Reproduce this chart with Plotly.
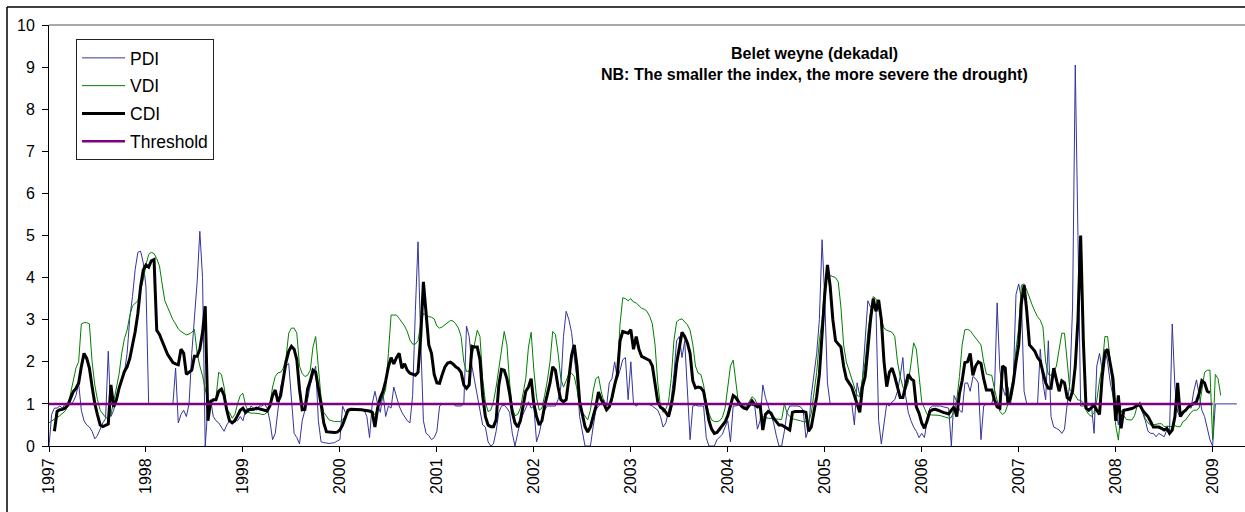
import plotly.graph_objects as go

# Dekadal drought indices, Belet weyne, one row per year (36 dekads), starting Jan 1997
PDI = [
    0.0, 0.75, 0.9, 0.9, 0.95, 0.9, 1.0, 0.95, 1.0, 1.05, 1.2, 1.5, 0.85, 0.6, 0.5, 0.45, 0.35, 0.17, 0.25, 0.4, 0.55, 0.65, 2.25, 0.7, 0.85, 1.1, 1.4, 1.6, 1.75, 2.2, 3.05, 3.55, 4.2, 4.6, 4.63, 4.35,
    3.78, 1.0, 1.0, 1.0, 1.0, 1.0, 1.0, 1.0, 1.0, 1.0, 1.0, 1.85, 0.55, 0.75, 0.85, 0.7, 1.0, 2.2, 3.0, 3.9, 5.1, 4.0, 0.0, 0.95, 1.1, 0.7, 0.6, 0.55, 0.45, 0.35, 0.5, 0.6, 0.55, 0.65, 0.6, 0.7,
    0.6, 0.85, 0.8, 0.95, 0.9, 0.85, 0.95, 0.95, 1.0, 0.9, 0.6, 0.15, 0.3, 0.9, 1.4, 1.65, 1.9, 1.96, 1.0, 0.3, 0.2, 0.05, 0.6, 0.85, 1.1, 1.45, 1.7, 1.9, 0.6, 0.1, 0.08, 0.07, 0.06, 0.07, 0.08, 0.12,
    0.15, 0.95, 0.8, 0.85, 0.85, 0.85, 0.85, 0.85, 0.85, 0.85, 0.7, 0.2, 1.0, 1.3, 1.0, 0.8, 1.25, 0.7, 0.95, 0.9, 1.4, 1.15, 0.95, 0.8, 0.7, 0.6, 0.55, 1.2, 3.2, 4.85, 2.5, 0.6, 0.3, 0.25, 0.15, 0.2,
    0.35, 0.95, 1.0, 1.0, 1.0, 1.0, 1.0, 0.95, 0.95, 0.95, 1.0, 2.85, 2.6, 1.9, 1.55, 1.2, 0.8, 0.5, 0.45, 0.1, 0.0, 0.05, 0.35, 0.8, 0.95, 0.97, 0.9, 0.8, 0.3, 0.0, 0.3, 0.6, 0.75, 0.9, 1.05, 0.9,
    0.95, 0.1, 0.3, 0.6, 0.85, 0.95, 0.95, 0.95, 0.95, 1.1, 1.4, 2.6, 3.2, 3.0, 2.7, 2.1, 1.6, 0.7, 0.3, 0.0, 0.0, 0.0, 0.45, 0.85, 0.95, 1.0, 1.1, 0.95, 1.5, 1.6, 2.0, 1.6, 1.8, 2.05, 2.1, 1.1,
    2.0, 1.0, 0.95, 1.0, 1.0, 1.0, 1.0, 0.98, 0.95, 0.9, 0.85, 0.7, 0.45, 0.55, 0.8, 1.1, 1.7, 2.5, 2.6, 2.1, 2.5, 1.25, 0.15, 0.95, 0.97, 0.95, 0.95, 0.95, 0.2, 0.0, 0.0, 0.0, 0.15, 0.22, 0.28, 0.45,
    0.6, 0.1, 0.95, 0.95, 0.97, 0.97, 0.98, 0.98, 0.98, 0.97, 0.95, 0.4, 0.6, 1.45, 1.15, 0.95, 0.75, 0.55, 0.25, 0.0, 0.0, 0.35, 0.8, 0.95, 0.95, 0.95, 0.95, 0.93, 0.85, 0.2, 0.4, 1.2, 1.7, 2.2, 3.0, 4.9,
    3.5, 1.5, 1.0, 1.0, 1.0, 1.0, 1.0, 1.0, 1.0, 1.0, 1.02, 0.5, 1.5, 1.2, 1.6, 2.6, 3.45, 3.3, 3.4, 3.3, 0.6, 0.05, 0.6, 1.0, 0.95, 1.05, 1.1, 1.3, 1.65, 2.1, 1.2, 0.8, 0.6, 0.45, 0.35, 0.2,
    0.3, 0.2, 0.6, 0.9, 0.95, 0.95, 0.95, 0.95, 0.93, 0.92, 0.9, 0.0, 1.2, 1.05, 0.85, 0.8, 1.49, 1.5, 1.3, 1.65, 1.6, 1.5, 0.15, 0.95, 1.0, 1.0, 1.0, 1.3, 3.4, 1.8, 1.4, 1.2, 1.4, 1.0, 1.6, 3.6,
    3.85, 3.5, 1.3, 1.0, 1.0, 1.0, 1.0, 1.0, 2.3, 1.5, 1.1, 2.5, 0.7, 0.45, 0.42, 0.38, 0.3, 0.4, 1.0, 1.5, 3.3, 9.05, 5.0, 0.95, 0.95, 0.97, 0.97, 0.97, 0.3, 1.9, 2.2, 1.8, 2.3, 2.0, 1.5, 1.2,
    0.9, 0.5, 1.0, 1.0, 1.0, 1.0, 1.0, 1.0, 1.0, 0.98, 0.8, 0.6, 0.35, 0.3, 0.3, 0.22, 0.3, 0.25, 0.22, 0.38, 0.33, 2.9, 1.4, 0.8, 0.7, 0.78, 0.85, 0.92, 0.9, 1.3, 1.57, 1.2, 0.85, 0.7, 0.45, 0.15,
    0.0, 1.0, 1.0, 1.0, 1.0, 1.0, 1.0, 1.0, 1.0, 1.0,
]

VDI = [
    0.55, 0.6, 0.63, 0.68, 0.72, 0.77, 0.83, 0.95, 1.25, 1.6, 1.85, 2.0, 2.9, 2.93, 2.93, 2.9, 2.0, 1.45, 1.1, 0.85, 0.75, 0.68, 0.65, 0.75, 1.05, 1.4, 1.7, 2.2, 2.55, 2.75, 3.1, 3.33, 3.38, 3.45, 3.7, 3.95,
    4.3, 4.55, 4.6, 4.57, 4.45, 4.28, 3.85, 3.45, 3.3, 3.15, 3.0, 2.9, 2.78, 2.72, 2.67, 2.64, 2.66, 2.7, 2.77, 2.2, 1.9, 1.67, 1.35, 1.1, 1.05, 1.05, 1.15, 1.75, 1.7, 1.4, 0.86, 0.8, 0.66, 0.75, 1.0, 1.2,
    1.25, 0.97, 0.8, 0.78, 0.78, 0.78, 0.77, 0.75, 0.75, 0.8, 0.97, 1.4, 1.65, 1.74, 1.75, 1.85, 2.1, 2.68, 2.8, 2.8, 2.68, 1.9, 1.72, 1.65, 1.68, 1.8, 2.35, 2.6, 1.9, 1.15, 0.8, 0.7, 0.62, 0.6, 0.58, 0.58,
    0.58, 0.62, 0.7, 0.82, 0.85, 0.85, 0.85, 0.85, 0.85, 0.85, 0.84, 0.83, 0.82, 0.74, 0.9, 1.05, 1.15, 1.35, 2.2, 3.11, 3.11, 3.11, 3.03, 2.95, 2.85, 2.72, 2.52, 2.42, 2.42, 2.5, 2.9, 3.15, 3.1, 3.07, 3.06, 3.02,
    2.85, 2.8, 2.83, 2.88, 2.93, 2.98, 2.97, 2.9, 2.8, 2.6, 2.0, 1.77, 1.78, 2.1, 2.45, 2.75, 2.6, 1.6, 1.05, 0.82, 0.85, 1.05, 1.4, 1.85, 2.35, 2.72, 2.4, 1.5, 0.9, 0.72, 0.75, 0.9, 1.25, 1.6, 2.35, 2.7,
    1.8, 1.15, 0.85, 0.9, 1.2, 1.55, 2.0, 2.72, 2.65, 2.2, 1.6, 1.4, 1.55, 1.72, 1.73, 1.65, 1.35, 0.95, 0.8, 0.7, 0.62, 0.85, 1.3, 1.6, 1.65, 1.3, 1.05, 0.97, 0.98, 1.05, 1.4, 1.75, 2.9, 3.52, 3.5, 3.45,
    3.5, 3.42, 3.4, 3.33, 3.27, 3.25, 3.2, 3.08, 2.9, 2.4, 1.5, 0.95, 0.8, 0.88, 1.05, 1.6, 2.5, 2.95, 3.0, 3.02, 2.95, 2.88, 2.75, 2.42, 1.9, 1.73, 1.7, 1.45, 1.05, 0.78, 0.62, 0.58, 0.58, 0.6, 0.68, 0.9,
    1.4, 1.9, 2.04, 1.45, 1.0, 0.93, 0.93, 0.95, 1.05, 1.17, 1.12, 1.0, 0.85, 0.7, 0.67, 0.66, 0.66, 0.65, 0.64, 0.63, 0.63, 1.0, 0.78, 0.7, 0.65, 0.63, 0.62, 0.6, 0.58, 0.57, 0.57, 0.78, 1.25, 1.75, 2.5, 3.0,
    3.85, 4.02, 4.05, 4.03, 4.0, 3.9, 3.3, 2.4, 2.0, 1.8, 1.6, 1.4, 1.2, 1.17, 1.55, 2.0, 2.7, 3.2, 3.55, 3.5, 3.25, 3.0, 2.8, 2.75, 2.73, 2.7, 2.6, 2.0, 1.65, 1.4, 1.33, 1.5, 1.95, 2.45, 2.3, 1.6,
    1.05, 0.9, 0.75, 0.74, 0.74, 0.74, 0.73, 0.72, 0.7, 0.68, 0.66, 0.68, 0.85, 1.1, 1.65, 2.4, 2.76, 2.77, 2.74, 2.65, 2.57, 2.47, 2.4, 2.0, 1.71, 1.69, 1.68, 1.35, 1.05, 0.82, 0.75, 0.8, 1.0, 1.3, 1.65, 2.3,
    2.8, 3.82, 3.85, 3.7, 3.5, 3.35, 3.2, 3.07, 2.99, 2.83, 2.0, 1.7, 1.68, 1.75, 1.9, 2.3, 2.68, 2.68, 1.9, 1.33, 1.27, 1.2, 1.09, 1.09, 1.02, 0.85, 0.75, 0.7, 0.8, 1.09, 1.55, 1.9, 2.6, 2.6, 2.0, 1.2,
    0.5, 0.14, 0.85, 0.72, 0.63, 0.62, 0.62, 0.72, 0.95, 1.05, 0.85, 0.65, 0.55, 0.5, 0.5, 0.52, 0.53, 0.53, 0.46, 0.47, 0.46, 0.46, 0.48, 0.46, 0.46, 0.58, 0.62, 0.7, 0.8, 0.85, 0.85, 0.9, 1.3, 1.75, 1.8, 1.8,
    0.15, 1.7, 1.6, 1.2,
]

CDI = [
    None, None, 0.35, 0.82, 0.86, 0.87, 0.9, 0.97, 1.13, 1.29, 1.37, 1.49, 1.88, 2.2, 2.08, 1.85, 1.41, 1.01, 0.74, 0.5, 0.46, 0.5, 0.52, 1.45, 0.93, 1.09, 1.37, 1.57, 1.77, 1.88, 2.08, 2.4, 2.72, 3.15, 3.78, 4.18,
    4.3, 4.25, 4.4, 4.43, 2.75, 2.65, 2.5, 2.32, 2.18, 2.08, 1.98, 1.95, 1.93, 2.3, 2.2, 1.7, 1.75, 1.8, 2.13, 2.13, 2.3, 2.7, 3.32, 0.6, 1.05, 1.1, 1.1, 1.3, 1.35, 1.2, 0.85, 0.6, 0.55, 0.6, 0.72, 0.85,
    0.9, 0.8, 0.86, 0.86, 0.87, 0.9, 0.88, 0.87, 0.85, 0.83, 0.95, 1.2, 1.33, 1.05, 1.2, 1.65, 2.0, 2.25, 2.37, 2.3, 2.05, 1.35, 0.86, 0.87, 1.35, 1.55, 1.8, 1.75, 1.4, 1.0, 0.55, 0.34, 0.33, 0.32, 0.32, 0.33,
    0.38, 0.5, 0.7, 0.85, 0.87, 0.87, 0.87, 0.86, 0.86, 0.85, 0.84, 0.83, 0.8, 0.45, 0.9, 1.15, 1.3, 1.55, 1.88, 2.1, 1.95, 2.1, 2.2, 1.85, 1.95, 1.8, 1.73, 1.7, 1.68, 1.75, 2.6, 3.9, 3.2, 2.4, 2.2, 1.7,
    1.5, 1.49, 1.7, 1.88, 1.97, 1.99, 1.95, 1.88, 1.84, 1.75, 1.45, 1.37, 1.45, 2.37, 2.35, 2.35, 2.05, 1.2, 0.7, 0.5, 0.46, 0.46, 0.62, 1.45, 1.82, 1.8, 1.6, 1.25, 0.8, 0.55, 0.45, 0.6, 0.95, 1.3, 1.4, 1.6,
    1.0, 0.7, 0.5, 0.6, 0.95, 1.2, 1.5, 1.88, 1.8, 1.4, 1.1, 1.05, 1.1, 1.6, 2.15, 2.4, 1.9, 1.05, 0.78, 0.46, 0.33, 0.45, 0.7, 0.93, 1.28, 1.1, 1.0, 0.86, 0.93, 1.15, 1.45, 1.7, 2.5, 2.72, 2.7, 2.68,
    2.76, 2.3, 2.6, 2.3, 2.13, 2.1, 2.07, 2.03, 1.9, 1.49, 1.05, 0.92, 0.88, 0.8, 0.7, 0.95, 1.35, 1.96, 2.35, 2.7, 2.6, 2.45, 2.2, 1.55, 1.38, 1.4, 1.38, 1.3, 0.95, 0.6, 0.4, 0.3, 0.32, 0.4, 0.5, 0.57,
    0.72, 0.95, 1.2, 1.15, 1.05, 0.95, 0.9, 0.88, 0.97, 1.07, 0.98, 0.93, 0.97, 0.38, 0.75, 0.82, 0.78, 0.66, 0.58, 0.5, 0.5, 0.46, 0.42, 0.38, 0.8, 0.82, 0.82, 0.82, 0.82, 0.8, 0.35, 0.45, 0.78, 1.17, 1.7, 2.8,
    3.6, 4.3, 3.8, 3.0, 2.5, 2.42, 2.35, 1.9, 1.6, 1.5, 1.4, 1.2, 1.0, 0.8, 1.4, 1.65, 2.3, 3.0, 3.5, 3.2, 3.47, 3.0, 2.0, 1.41, 1.75, 1.85, 1.65, 1.4, 1.15, 1.15, 1.4, 1.7, 1.6, 1.55, 0.93, 0.78,
    0.55, 0.42, 0.6, 0.82, 0.86, 0.87, 0.85, 0.82, 0.8, 0.78, 0.76, 0.85, 0.93, 0.7, 1.25, 1.55, 1.98, 2.0, 2.2, 1.68, 1.9, 2.0, 1.96, 1.6, 1.33, 1.33, 1.33, 1.1, 0.93, 0.9, 1.9, 1.85, 1.0, 1.15, 1.5, 2.0,
    2.4, 3.4, 3.82, 3.2, 2.4, 2.33, 2.25, 2.1, 2.02, 1.75, 1.5, 1.37, 1.37, 1.85, 1.6, 1.3, 1.55, 1.5, 1.15, 1.1, 1.3, 1.9, 3.0, 5.0, 2.5, 0.9, 0.85, 0.9, 0.97, 0.85, 0.75, 1.65, 2.2, 2.3, 1.9, 1.6,
    0.6, 1.2, 0.42, 0.85, 0.86, 0.87, 0.89, 0.92, 0.97, 0.97, 0.85, 0.77, 0.7, 0.58, 0.45, 0.45, 0.45, 0.42, 0.38, 0.42, 0.3, 0.38, 0.7, 1.5, 0.7, 0.8, 0.85, 0.93, 0.97, 1.0, 1.05, 1.25, 1.55, 1.5, 1.3, 1.27,
]

THRESHOLD_VALUE = 1.0
THRESHOLD_DEKADS = 433          # Jan 1997 dekad 1 through Jan 2009 dekad 1
START_YEAR = 1997
YEAR_TICKS = list(range(1997, 2010))
YEAR_LABELS = [str(y) for y in YEAR_TICKS]

FONT = "Liberation Sans, Arial, sans-serif"


def dekad_axis(n):
    return [START_YEAR + i / 36 for i in range(n)]


threshold = [THRESHOLD_VALUE] * THRESHOLD_DEKADS

fig = go.Figure()
fig.add_trace(go.Scatter(x=dekad_axis(len(PDI)), y=PDI, name="PDI", mode="lines",
                         line=dict(color="#34349e", width=1), legendgroup="pdi"))
fig.add_trace(go.Scatter(x=dekad_axis(len(VDI)), y=VDI, name="VDI", mode="lines",
                         line=dict(color="#008000", width=1), legendgroup="vdi"))
fig.add_trace(go.Scatter(x=dekad_axis(len(CDI)), y=CDI, name="CDI", mode="lines",
                         line=dict(color="#000000", width=3), legendgroup="cdi"))
fig.add_trace(go.Scatter(x=dekad_axis(len(threshold)), y=threshold, name="Threshold", mode="lines",
                         line=dict(color="#800080", width=2.5), legendgroup="thr"))

W, H = 1245, 512
ML, MR, MT, MB = 49, 0, 25, 66
plot_w = W - ML - MR
plot_h = H - MT - MB


def px_x(px):
    return (px - ML) / plot_w


def px_y(py):
    return (H - MB - py) / plot_h


fig.update_layout(
    width=W, height=H,
    margin=dict(l=ML, r=MR, t=MT, b=MB),
    paper_bgcolor="white", plot_bgcolor="white",
    font=dict(family=FONT, color="black"),
    showlegend=True,
    legend=dict(
        x=px_x(76), y=px_y(39), xanchor="left", yanchor="top",
        bgcolor="white", bordercolor="#222222", borderwidth=1,
        font=dict(family=FONT, size=17.5, color="black"),
        tracegroupgap=2, itemwidth=43,
    ),
    xaxis=dict(
        range=[START_YEAR, START_YEAR + plot_w / 96.97],
        tickmode="array", tickvals=YEAR_TICKS, ticktext=YEAR_LABELS,
        tickangle=-90, ticks="outside", ticklen=5, tickcolor="black",
        showline=True, linecolor="black", linewidth=1,
        showgrid=False, zeroline=False,
        tickfont=dict(family=FONT, size=16, color="black"),
    ),
    yaxis=dict(
        range=[0, 10], dtick=1, ticks="outside", ticklen=6, tickcolor="black",
        showline=True, linecolor="black", linewidth=1,
        showgrid=False, zeroline=False,
        tickfont=dict(family=FONT, size=16, color="black"),
        ticklabelstandoff=4,
    ),
    shapes=[
        # plot-area top border
        dict(type="line", xref="paper", yref="paper", x0=0, x1=1, y0=1, y1=1,
             line=dict(color="#a8a8a8", width=2)),
        # chart frame, left and top edges
        dict(type="line", xref="paper", yref="paper", x0=px_x(7), x1=px_x(7),
             y0=px_y(7), y1=px_y(520), line=dict(color="black", width=1.5)),
        dict(type="line", xref="paper", yref="paper", x0=px_x(7), x1=1.02,
             y0=px_y(7), y1=px_y(7), line=dict(color="black", width=1.5)),
    ],
    annotations=[
        dict(text="<b>Belet weyne (dekadal)</b>", xref="paper", yref="paper",
             x=px_x(814), y=px_y(53), xanchor="center", yanchor="middle",
             showarrow=False, font=dict(family=FONT, size=16, color="black")),
        dict(text="<b>NB: The smaller the index, the more severe the drought)</b>",
             xref="paper", yref="paper",
             x=px_x(814), y=px_y(75), xanchor="center", yanchor="middle",
             showarrow=False, font=dict(family=FONT, size=16, color="black")),
    ],
)

fig.write_html("out.html")
